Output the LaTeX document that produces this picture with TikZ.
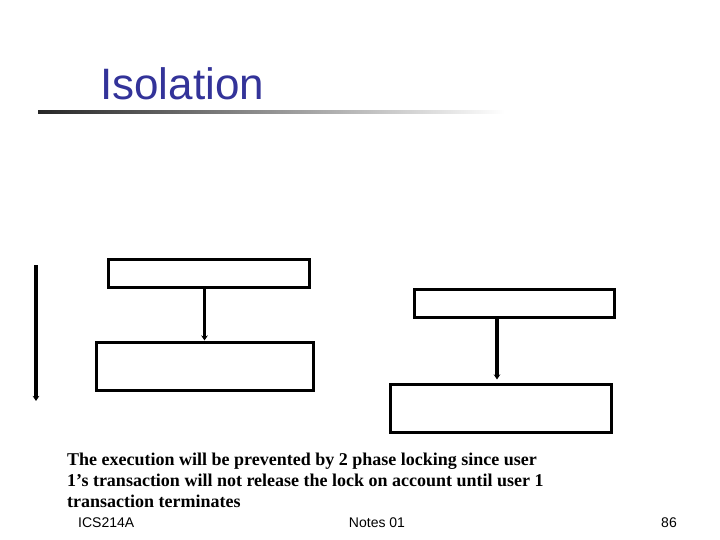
\documentclass[tikz,border=0pt]{standalone}
\usepackage{fontspec}
\setmainfont{Liberation Serif}
\setsansfont{Liberation Sans}
\usetikzlibrary{arrows.meta}
\definecolor{titleblue}{RGB}{51,51,153}
\tikzset{
  box/.style={draw, line width=3pt, inner sep=0pt},
  flow/.style={line width=3.5pt, -{Stealth[length=5pt,width=6.5pt]}},
}
\begin{document}
\begin{tikzpicture}[x=1pt, y=-1pt]
      \useasboundingbox (0,0) rectangle (720,540);

      % title and rule
      \node[anchor=base west, inner sep=0pt, font=\sffamily\fontsize{44}{44}\selectfont, text=titleblue] (title) at (100,100) {Isolation};
      \shade[left color=black!85, right color=white] (38,110.5) rectangle (505,113.5);

      % time axis
      \coordinate (tstart) at (36,265);
      \coordinate (tend) at (36,401);
      \draw[flow] (tstart) -- (tend);

      % user 1
      \node[box, minimum width=201pt, minimum height=28pt] (u1top) at (208.5,273) {};
      \node[box, minimum width=217pt, minimum height=48pt] (u1bot) at (204.5,366) {};
      \draw[flow] (u1top.south -| u1bot.north) -- (u1bot.north);

      % user 2
      \node[box, minimum width=200pt, minimum height=28pt] (u2top) at (514,303) {};
      \node[box, minimum width=221pt, minimum height=48pt] (u2bot) at (500.5,408) {};
      \coordinate (u2in) at ([xshift=-3.5pt, yshift=3pt]u2bot.north);
      \draw[flow] (u2top.south -| u2in) -- (u2in);

      \node[anchor=north west, inner sep=0pt, align=left, font=\bfseries\fontsize{18}{21}\selectfont] (note) at (67,453)
        {The execution will be prevented by 2 phase locking since user\\
         1's transaction will not release the lock on account until user 1\\
         transaction terminates};

      % footer
      \node[anchor=base west, inner sep=0pt, font=\sffamily\fontsize{14}{14}\selectfont] (course) at (78,527) {ICS214A};
      \node[anchor=base, inner sep=0pt, font=\sffamily\fontsize{14}{14}\selectfont] (notes) at (377,527) {Notes 01};
      \node[anchor=base east, inner sep=0pt, font=\sffamily\fontsize{14}{14}\selectfont] (page) at (677,527) {86};
    \end{tikzpicture}
\end{document}
